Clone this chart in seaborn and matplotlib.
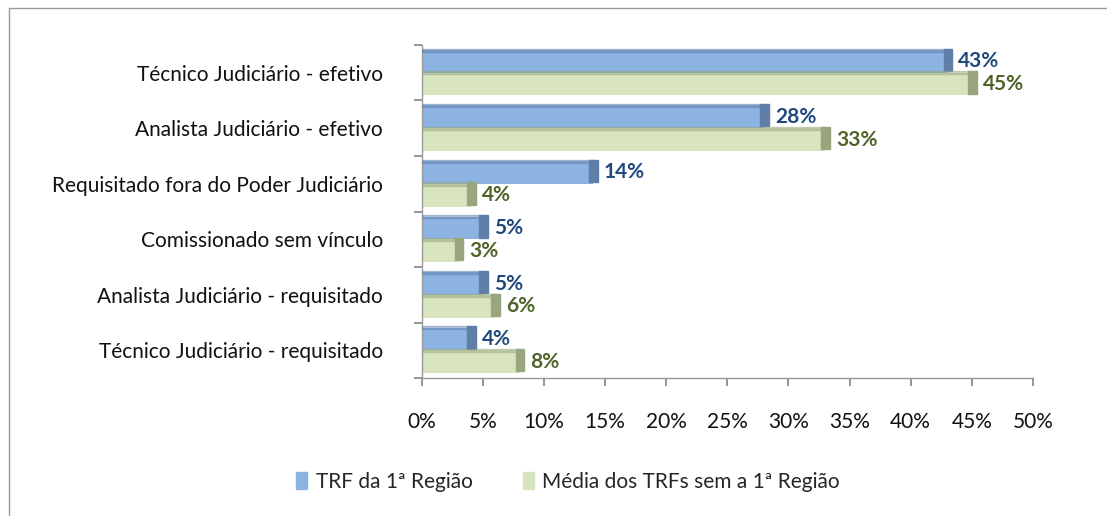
import numpy as np
import pandas as pd
import matplotlib
matplotlib.use("Agg")
import matplotlib.pyplot as plt
import seaborn as sns
from matplotlib.patches import Rectangle

categories = [
    "Técnico Judiciário - efetivo",
    "Analista Judiciário - efetivo",
    "Requisitado fora do Poder Judiciário",
    "Comissionado sem vínculo",
    "Analista Judiciário - requisitado",
    "Técnico Judiciário - requisitado",
]
series_names = ["TRF da 1ª Região", "Média dos TRFs sem a 1ª Região"]
trf1 = [43, 28, 14, 5, 5, 4]
media = [45, 33, 4, 3, 6, 8]
x_ticks = [0, 5, 10, 15, 20, 25, 30, 35, 40, 45, 50]

face_colors = ["#8DB3E2", "#D7E4BD"]
side_colors = ["#5F7FA8", "#98A67E"]
label_colors = ["#1F497D", "#4F6228"]

df = pd.DataFrame({
    "categoria": categories * 2,
    "valor": trf1 + media,
    "serie": [series_names[0]] * len(categories) + [series_names[1]] * len(categories),
})

sns.set_theme(style="white")
plt.rcParams["font.family"] = ["Lato", "DejaVu Sans"]

fig = plt.figure(figsize=(11.07, 5.16), dpi=100)
ax = fig.add_axes([0.381, 0.267, 0.552, 0.646])

sns.barplot(data=df, x="valor", y="categoria", hue="serie", order=categories,
            hue_order=series_names, palette=face_colors, width=0.82,
            saturation=1, legend=False, ax=ax)

# bars come out per hue level, in category order
n = len(categories)
for i, bar in enumerate(ax.patches[:2 * n]):
    k = i // n
    bar.set_edgecolor("none")
    x0, y0 = bar.get_x(), bar.get_y()
    w, h = bar.get_width(), bar.get_height()
    # darker end face and top edge to fake the 3-D look
    ax.add_patch(Rectangle((x0 + w - 0.3, y0 - h * 0.06), 0.7, h * 0.98,
                           color=side_colors[k], zorder=3))
    ax.add_patch(Rectangle((x0, y0 - h * 0.06), w, h * 0.14,
                           color=side_colors[k], alpha=0.45, zorder=3))
    ax.text(x0 + w + 0.9, y0 + h / 2, f"{int(round(w))}%", va="center", ha="left",
            fontsize=15, fontweight="bold", color=label_colors[k])

ax.set_xlim(0, 50)
ax.set_ylim(n - 0.5, -0.5)
ax.set_xticks(x_ticks)
ax.set_xticklabels([f"{t}%" for t in x_ticks], fontsize=15, color="#111111")
ax.set_yticks(np.arange(-0.5, n, 1.0))
ax.set_yticklabels([])
ax.set_yticks(np.arange(n), minor=True)
ax.set_yticklabels(categories, minor=True, fontsize=15, color="#111111")
ax.tick_params(axis="y", which="minor", length=0, pad=28)
ax.tick_params(axis="y", which="major", length=6, color="#888888", direction="out", left=True)
ax.tick_params(axis="x", length=6, color="#888888", direction="out", bottom=True, pad=18)
ax.set_xlabel("")
ax.set_ylabel("")

for side in ["top", "right"]:
    ax.spines[side].set_visible(False)
for side in ["left", "bottom"]:
    ax.spines[side].set_color("#999999")
    ax.spines[side].set_linewidth(1.0)

handles = [Rectangle((0, 0), 1, 1, color=c) for c in face_colors]
fig.legend(handles, series_names, loc="center", bbox_to_anchor=(0.513, 0.066), ncol=2,
           frameon=False, fontsize=15, handlelength=0.55, handleheight=0.85,
           columnspacing=2.4, handletextpad=0.4)

fig.patches.append(Rectangle((0.008, -0.1), 1.1, 1.085, transform=fig.transFigure,
                             fill=False, edgecolor="#999999", linewidth=1.0))

fig.savefig("out.png", dpi=100)
